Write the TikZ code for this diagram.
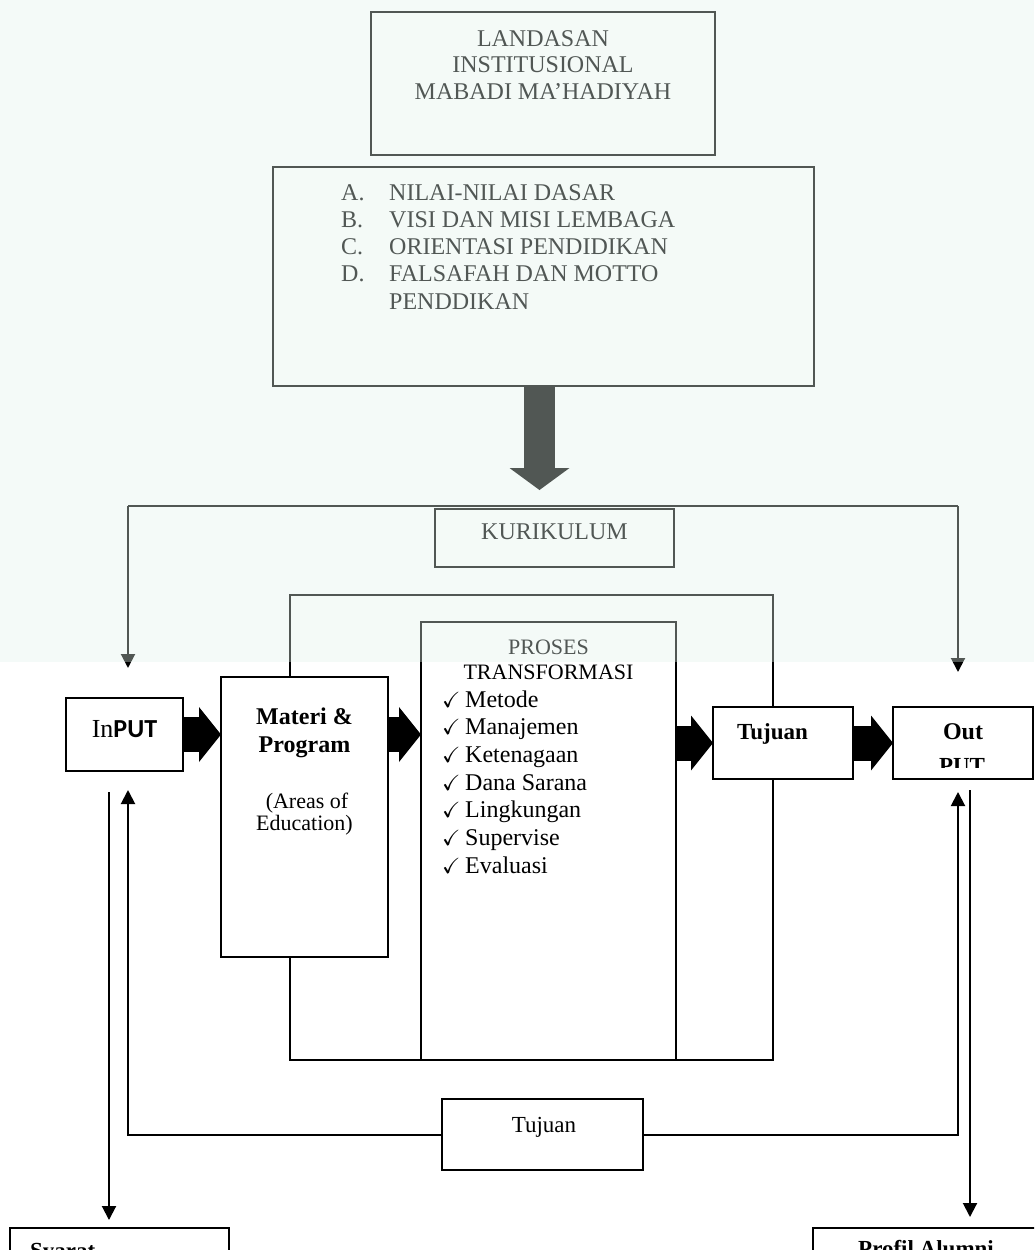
\documentclass[tikz,border=0pt]{standalone}
\usepackage{amssymb}
\usepackage{fontspec}
\setmainfont{Liberation Serif}
\newfontfamily\calibri{Carlito}
\usetikzlibrary{arrows.meta}
\newcommand\pxfont[1]{\fontsize{#1}{#1}\selectfont}
\definecolor{wmtint}{RGB}{225,242,235}

\begin{document}
\begin{tikzpicture}[x=1pt,y=-1pt,
  box/.style={draw, line width=2.2pt, fill=white, inner sep=0pt, outer sep=0pt},
  txt/.style={inner sep=0pt, anchor=base, font=\pxfont{23}},
  wire/.style={line width=2pt},
  wirearrow/.style={line width=2pt, -{Triangle[length=14pt,width=14pt]}},
  fatarrow/.style={line width=35pt, -{Triangle[length=22pt,width=55pt,line width=0pt]}},
]
\useasboundingbox (0,0) rectangle (1034,1250);
\clip (0,0) rectangle (1034,1250);

% landasan
\node[box, minimum width=344pt, minimum height=143pt] (landasan) at (543,83.5) {};
\node[txt, font=\pxfont{24}] (land1) at (543,46) {LANDASAN};
\node[txt, font=\pxfont{24}] (land2) at (543,72.5) {INSTITUSIONAL};
\node[txt, font=\pxfont{24}] (land3) at (543,99) {MABADI MA’HADIYAH};

\node[box, minimum width=541pt, minimum height=219pt] (nilai) at (543.5,276.5) {};
\foreach \l/\t [count=\i from 0] in {A./NILAI-NILAI DASAR, B./VISI DAN MISI LEMBAGA,
    C./ORIENTASI PENDIDIKAN, D./FALSAFAH DAN MOTTO, /PENDDIKAN}
{
  \node[txt, anchor=base west, font=\pxfont{24}] (let\i) at (341,{200+27.3*\i}) {\l};
  \node[txt, anchor=base west, font=\pxfont{24}] (nil\i) at (389,{200+27.3*\i}) {\t};
}

% kurikulum
\node[box, minimum width=239pt, minimum height=58pt] (kur) at (554.5,538) {};
\node[txt, font=\pxfont{24}] (kurlbl) at (554.5,539) {KURIKULUM};
\draw[line width=31pt, -{Triangle[length=22pt,width=60pt,line width=0pt]}, shorten >=19pt]
  ([xshift=-4pt]nilai.south) -- ([xshift=-4pt]nilai.south |- kur.north);

\coordinate (kl) at (128,506);
\coordinate (kr) at (958,506);
\coordinate (kla) at (128,668);
\coordinate (kra) at (958,672);
\draw[wire] (kl) -- (kr);
\draw[wirearrow] (kl) -- (kla);
\draw[wirearrow] (kr) -- (kra);

% proses
\node[box, line width=2pt, minimum width=483pt, minimum height=465pt] (frame) at (531.5,827.5) {};
\node[box, line width=2pt, minimum width=255pt, minimum height=438pt] (pro) at (548.5,841) {};
\node[box, minimum width=167pt, minimum height=280pt] (mat) at (304.5,817) {};
\node[box, minimum width=117pt, minimum height=73pt] (inp) at (124.5,734.5) {};
\node[box, minimum width=140pt, minimum height=72pt] (tuj) at (783,743) {};
\node[box, minimum width=140pt, minimum height=72pt] (out) at (963,743) {};
\node[box, minimum width=201pt, minimum height=71pt] (tb) at (542.5,1134.5) {};
\node[box, minimum width=219pt, minimum height=72pt] (syarat) at (119.5,1264) {};
\node[box, minimum width=237pt, minimum height=72pt] (profil) at (931.5,1264) {};

\draw[fatarrow] (inp.east) -- (inp.east -| mat.west);
\draw[fatarrow] (inp.east -| mat.east) -- (inp.east -| pro.west);
\draw[fatarrow] (tuj.west -| pro.east) -- (tuj.west);
\draw[fatarrow] (tuj.east) -- (out.west);

\coordinate (fbl) at (128,790);
\coordinate (fbr) at (958,792);
\draw[wirearrow] (tb.west) -| (fbl);
\draw[wirearrow] (tb.east) -| (fbr);
\coordinate (ind1) at (109,792);
\coordinate (ind2) at (109,1220);
\coordinate (outd1) at (970,790);
\coordinate (outd2) at (970,1217);
\draw[wirearrow] (ind1) -- (ind2);
\draw[wirearrow] (outd1) -- (outd2);

% labels
\node[txt, font=\pxfont{26}] (inlbl) at (124.5,737) {In{\calibri\bfseries PUT}};
\node[txt, font=\pxfont{24}\bfseries] (mat1) at (304.5,724) {Materi \&};
\node[txt, font=\pxfont{24}\bfseries] (mat2) at (304.5,752) {Program};
\node[txt, font=\pxfont{22}] (area1) at (307,808) {(Areas of};
\node[txt, font=\pxfont{22}] (area2) at (304.5,830) {Education)};
\node[txt, font=\pxfont{22}] (pro1) at (548.5,654) {PROSES};
\node[txt, font=\pxfont{22}] (pro2) at (548.5,679) {TRANSFORMASI};
\foreach \t [count=\i from 0] in {Metode,Manajemen,Ketenagaan,Dana Sarana,Lingkungan,Supervise,Evaluasi}
{
  \node[txt, anchor=base west, font=\pxfont{22}] (chk\i) at (442,{707+27.7*\i}) {$\checkmark$};
  \node[txt, anchor=base west, font=\pxfont{24}] (item\i) at (465,{707+27.7*\i}) {\t};
}
\node[txt, anchor=base west, font=\pxfont{23}\bfseries] (tujlbl) at (737,739) {Tujuan};
\node[txt, font=\pxfont{24}\bfseries] (outlbl) at (963,739) {Out};
\begin{scope}
  \clip (893,707) rectangle (1033,767);
  \node[txt, font=\pxfont{23}\bfseries] (putlbl) at (962,773) {PUT};
\end{scope}
\node[txt] (tblbl) at (544,1132) {Tujuan};
\node[txt, anchor=base west, font=\pxfont{23}\bfseries] (syaratlbl) at (30,1258) {Syarat};
\node[txt, anchor=base west, font=\pxfont{23}\bfseries] (profillbl) at (858,1256) {Profil Alumni};

% watermark tint
\fill[wmtint, opacity=0.36] (0,0) rectangle (1034,662);
\end{tikzpicture}
\end{document}
